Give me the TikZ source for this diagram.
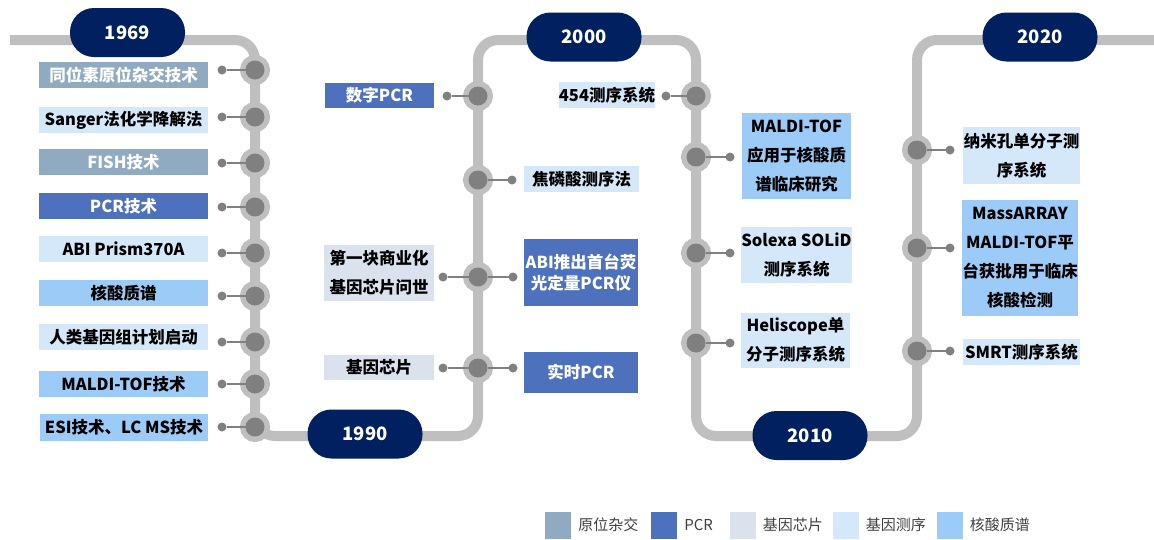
\documentclass[tikz,border=0pt]{standalone}
\usepackage{fontspec}
\setmainfont{Noto Sans CJK SC}
\usepackage{tikz}
\usetikzlibrary{positioning}
\definecolor{trackgrey}{HTML}{BFBFBF}
\definecolor{hubgrey}{HTML}{808080}
\definecolor{navy}{HTML}{002060}
\definecolor{yuanwei}{HTML}{8FAAC1}
\definecolor{pcrblue}{HTML}{4E71BE}
\definecolor{xinpian}{HTML}{DAE3ED}
\definecolor{cexu}{HTML}{D5E8FA}
\definecolor{zhipu}{HTML}{9DCBF7}

\begin{document}
\begin{tikzpicture}[
  x=1pt,y=-1pt,
  stop/.style={circle,fill=hubgrey,minimum size=19pt,inner sep=0pt,outer sep=0pt,
    preaction={draw=trackgrey,line width=11pt}},
  dot/.style={circle,fill=hubgrey,minimum size=9pt,inner sep=0pt,outer sep=0pt},
  year/.style={fill=navy,text=white,rounded corners=24pt,minimum width=115pt,
    minimum height=49pt,font=\bfseries\fontsize{18.5}{20}\selectfont},
  ]
  \tikzset{%
    box/.style={inner sep=0pt,align=center,
      font=\bfseries\fontsize{16.5}{29}\selectfont},
    link/.style={draw=hubgrey,line width=1.8pt},
    key/.style={minimum width=26pt,minimum height=27pt,inner sep=0pt},
    keytext/.style={right=7pt of #1,inner sep=0pt,text=black!75,
      font=\fontsize{15}{17}\selectfont},
  }
  \useasboundingbox (0,0) rectangle (1154,539);
  %Track
  \draw[trackgrey,line width=10pt,rounded corners=20pt]
    (10,40) -- (255,40) -- (255,436) -- (478,436) -- (478,40) -- (696,40)
    -- (696,436) -- (917,436) -- (917,40) -- (1154,40);
  %Years
  \node[year] (y1969) at (127.5,32.5) {1969};
  \node[year] (y1990) at (365,434) {1990};
  \node[year] (y2000) at (584,37) {2000};
  \node[year] (y2010) at (810,435.5) {2010};
  \node[year] (y2020) at (1040,37) {2020};
  %Stops
  \node[stop] (p1) at (255,70) {};
  \node[stop] (p2) at (255,117) {};
  \node[stop] (p3) at (255,163) {};
  \node[stop] (p4) at (255,207) {};
  \node[stop] (p5) at (255,253) {};
  \node[stop] (p6) at (255,296) {};
  \node[stop] (p7) at (255,342) {};
  \node[stop] (p8) at (255,384) {};
  \node[stop] (p9) at (255,427) {};
  \node[stop] (p10) at (478,96) {};
  \node[stop] (p11) at (478,180) {};
  \node[stop] (p12) at (478,277) {};
  \node[stop] (p13) at (478,368) {};
  \node[stop] (p14) at (696,96) {};
  \node[stop] (p15) at (696,157) {};
  \node[stop] (p16) at (696,253) {};
  \node[stop] (p17) at (696,343) {};
  \node[stop] (p18) at (917,150) {};
  \node[stop] (p19) at (917,248) {};
  \node[stop] (p20) at (917,351) {};
  %Dots
  \node[dot,xshift=-33pt] (d1) at (p1) {};
  \node[dot,xshift=-33pt] (d2) at (p2) {};
  \node[dot,xshift=-33pt] (d3) at (p3) {};
  \node[dot,xshift=-33pt] (d4) at (p4) {};
  \node[dot,xshift=-33pt] (d5) at (p5) {};
  \node[dot,xshift=-33pt] (d6) at (p6) {};
  \node[dot,xshift=-33pt] (d7) at (p7) {};
  \node[dot,xshift=-33pt] (d8) at (p8) {};
  \node[dot,xshift=-33pt] (d9) at (p9) {};
  \node[dot,xshift=-31pt] (d10) at (p10) {};
  \node[dot,xshift=34pt] (d11) at (p11) {};
  \node[dot,xshift=-35pt] (d12l) at (p12) {};
  \node[dot,xshift=35pt] (d12r) at (p12) {};
  \node[dot,xshift=-35pt] (d13l) at (p13) {};
  \node[dot,xshift=35pt] (d13r) at (p13) {};
  \node[dot,xshift=-30pt] (d14) at (p14) {};
  \node[dot,xshift=34pt] (d15) at (p15) {};
  \node[dot,xshift=34pt] (d16) at (p16) {};
  \node[dot,xshift=34pt] (d17) at (p17) {};
  \node[dot,xshift=33pt] (d18) at (p18) {};
  \node[dot,xshift=33pt] (d19) at (p19) {};
  \node[dot,xshift=33pt] (d20) at (p20) {};
  %Lines
  \draw[link]
    (d1) -- (p1) (d2) -- (p2) (d3) -- (p3) (d4) -- (p4) (d5) -- (p5)
    (d6) -- (p6) (d7) -- (p7) (d8) -- (p8) (d9) -- (p9)
    (d10) -- (p10) (d11) -- (p11) (d12l) -- (p12) (d12r) -- (p12)
    (d13l) -- (p13) (d13r) -- (p13) (d14) -- (p14) (d15) -- (p15)
    (d16) -- (p16) (d17) -- (p17) (d18) -- (p18) (d19) -- (p19)
    (d20) -- (p20);
  %Labels
  \node[box,fill=yuanwei,text=white,minimum width=169pt,minimum height=26pt] (t1) at (123.5,75) {同位素原位杂交技术};
  \node[box,fill=cexu,minimum width=169pt,minimum height=26pt] (t2) at (123.5,120) {Sanger法化学降解法};
  \node[box,fill=yuanwei,text=white,minimum width=169pt,minimum height=26pt] (t3) at (123.5,162) {FISH技术};
  \node[box,fill=pcrblue,text=white,minimum width=169pt,minimum height=26pt] (t4) at (123.5,206) {PCR技术};
  \node[box,fill=cexu,minimum width=169pt,minimum height=26pt] (t5) at (123.5,249) {ABI Prism370A};
  \node[box,fill=zhipu,minimum width=169pt,minimum height=26pt] (t6) at (123.5,293) {核酸质谱};
  \node[box,fill=cexu,minimum width=169pt,minimum height=26pt] (t7) at (123.5,337) {人类基因组计划启动};
  \node[box,fill=zhipu,minimum width=169pt,minimum height=26pt] (t8) at (123.5,384) {MALDI-TOF技术};
  \node[box,fill=zhipu,minimum width=168pt,minimum height=27pt] (t9) at (124,427) {ESI技术、LC MS技术};
  \node[box,fill=pcrblue,text=white,minimum width=109pt,minimum height=25pt] (t10) at (379.5,95) {数字PCR};
  \node[box,fill=cexu,minimum width=115pt,minimum height=26pt] (t11) at (581.5,179) {焦磷酸测序法};
  \node[box,fill=xinpian,minimum width=110pt,minimum height=56pt] (t12l) at (379,273) {第一块商业化\\基因芯片问世};
  \node[box,fill=pcrblue,text=white,minimum width=114pt,minimum height=67pt,
    font=\bfseries\fontsize{16.5}{21}\selectfont] (t12r) at (581,272.5) {ABI推出首台荧\\光定量PCR仪};
  \node[box,fill=xinpian,minimum width=110pt,minimum height=25pt] (t13l) at (379,367.5) {基因芯片};
  \node[box,fill=pcrblue,text=white,minimum width=114pt,minimum height=41pt] (t13r) at (581,372) {实时PCR};
  \node[box,fill=cexu,minimum width=96pt,minimum height=26pt] (t14) at (607,95) {454测序系统};
  \node[box,fill=zhipu,minimum width=109pt,minimum height=86pt] (t15) at (796.5,156) {MALDI-TOF\\应用于核酸质\\谱临床研究};
  \node[box,fill=cexu,minimum width=109pt,minimum height=56pt] (t16) at (796.5,255) {Solexa SOLiD\\测序系统};
  \node[box,fill=cexu,minimum width=109pt,minimum height=55pt] (t17) at (795.5,340) {Heliscope单\\分子测序系统};
  \node[box,fill=cexu,minimum width=117pt,minimum height=57pt] (t18) at (1021.5,155.5) {纳米孔单分子测\\序系统};
  \node[box,fill=zhipu,minimum width=116pt,minimum height=116pt] (t19) at (1020,258) {MassARRAY\\MALDI-TOF平\\台获批用于临床\\核酸检测};
  \node[box,fill=cexu,minimum width=117pt,minimum height=26pt] (t20) at (1021.5,352) {SMRT测序系统};
  %Legend
  \node[key,fill=yuanwei] (k1) at (558,525) {};
  \node[keytext=k1] (kt1) {原位杂交};
  \node[key,fill=pcrblue] (k2) at (664,525) {};
  \node[keytext=k2] (kt2) {PCR};
  \node[key,fill=xinpian] (k3) at (742.5,525) {};
  \node[keytext=k3] (kt3) {基因芯片};
  \node[key,fill=cexu] (k4) at (845.5,525) {};
  \node[keytext=k4] (kt4) {基因测序};
  \node[key,fill=zhipu] (k5) at (949.5,525) {};
  \node[keytext=k5] (kt5) {核酸质谱};
\end{tikzpicture}
\end{document}
